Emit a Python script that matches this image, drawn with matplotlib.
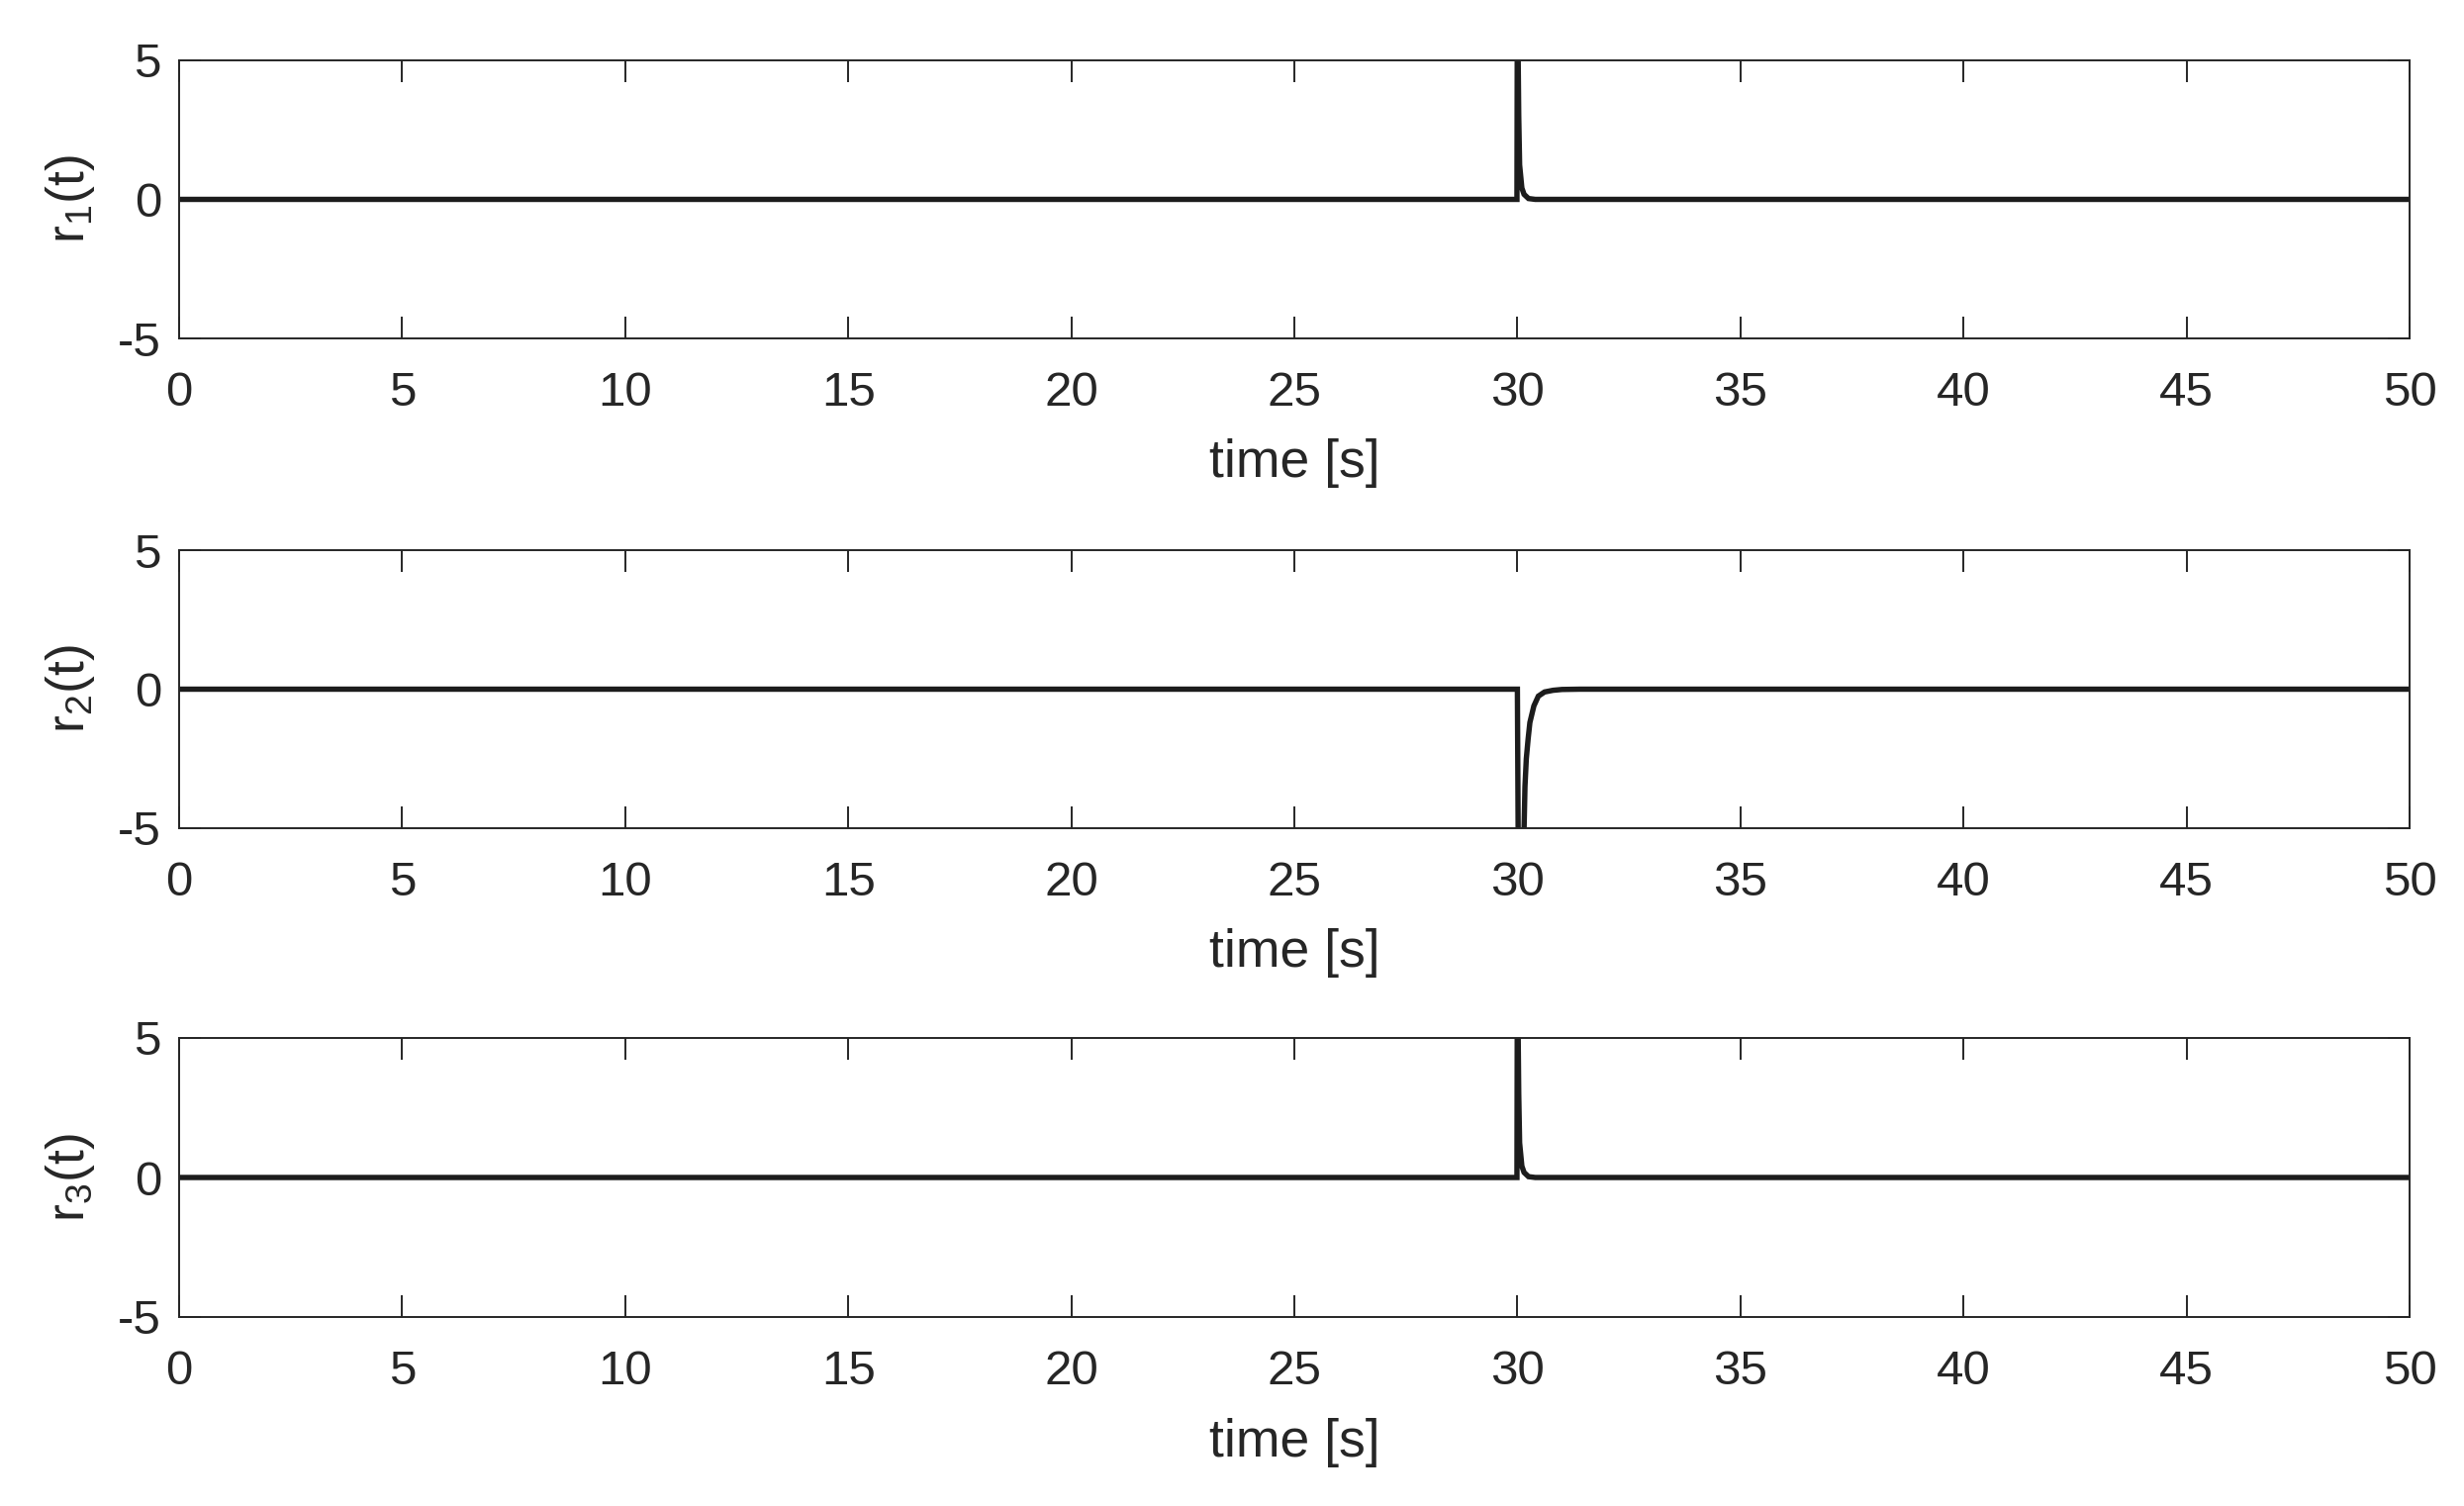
import matplotlib
matplotlib.use("Agg")
import matplotlib.pyplot as plt

plt.rcParams['font.family'] = ['Liberation Sans', 'DejaVu Sans']
plt.rcParams['mathtext.fontset'] = 'custom'
plt.rcParams['mathtext.rm'] = 'Liberation Sans'
plt.rcParams['mathtext.default'] = 'regular'

# ---- data ----
t1 = [0, 29.99, 30.0, 30.03, 30.05, 30.10, 30.15, 30.25, 30.40, 50]
r1 = [0, 0, 8.0, 3.0, 1.24, 0.41, 0.18, 0.03, 0, 0]

t2 = [0, 30.0, 30.03, 30.10, 30.15, 30.17, 30.20, 30.24, 30.28, 30.37, 30.47, 30.61, 30.80, 31.0, 31.4, 50]
r2 = [0, 0, -9.0, -7.0, -5.0, -3.5, -2.5, -1.8, -1.2, -0.6, -0.25, -0.1, -0.04, -0.01, 0, 0]

t3 = [0, 29.99, 30.0, 30.03, 30.05, 30.10, 30.15, 30.25, 30.40, 50]
r3 = [0, 0, 8.0, 3.0, 1.24, 0.41, 0.18, 0.03, 0, 0]

series = [(t1, r1, r'$r_1$(t)'), (t2, r2, r'$r_2$(t)'), (t3, r3, r'$r_3$(t)')]
xticks = [0, 5, 10, 15, 20, 25, 30, 35, 40, 45, 50]
yticks = [-5, 0, 5]
xlabel = 'time [s]'

W, H = 2490, 1522
fig = plt.figure(figsize=(W / 100, H / 100), dpi=100)
fig.patch.set_facecolor('white')

# axes positions in pixels: (left, top, right, bottom)
boxes = [(181, 61, 2435, 342), (181, 556, 2435, 837), (181, 1049, 2435, 1331)]
frame_color = '#262626'
text_color = '#262626'

for (t, r, lab), (l, tp, rt, bt) in zip(series, boxes):
    ax = fig.add_axes([l / W, 1 - bt / H, (rt - l) / W, (bt - tp) / H])
    ax.plot(t, r, color='#1c1c1c', lw=3.9, solid_joinstyle='miter')
    ax.set_xlim(0, 50)
    ax.set_ylim(-5, 5)
    ax.set_xticks(xticks)
    ax.set_yticks(yticks)
    ax.set_xticklabels([str(v) for v in xticks])
    ax.set_yticklabels([str(v) for v in yticks])
    ax.tick_params(axis='both', direction='in', length=16, width=1.4,
                   color=frame_color, labelcolor=text_color, labelsize=35.5,
                   top=True, right=True)
    ax.tick_params(axis='x', pad=24)
    ax.tick_params(axis='y', pad=13)
    for s in ax.spines.values():
        s.set_color(frame_color)
        s.set_linewidth(1.4)
    ax.set_xlabel(xlabel, fontsize=38.5, color=text_color)
    ax.xaxis.set_label_coords(0.5, -0.36)
    ax.set_ylabel(lab, fontsize=38.5, color=text_color)
    ax.yaxis.set_label_coords(-0.037, 0.5)

fig.savefig('out.png', dpi=100, facecolor='white')
